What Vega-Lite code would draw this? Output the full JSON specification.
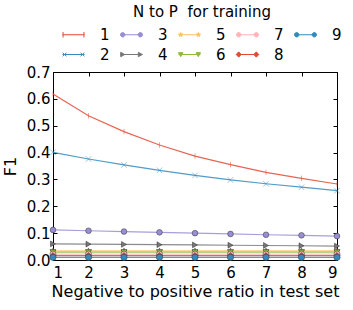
{
  "$schema": "https://vega.github.io/schema/vega-lite/v6.json",
  "width": 284,
  "height": 188,
  "autosize": "none",
  "padding": {"left": 53, "top": 72, "right": 16, "bottom": 50},
  "config": {
    "font": "DejaVu Sans",
    "view": {"stroke": "black", "strokeWidth": 1},
    "axis": {"domainColor": "black", "tickColor": "black", "labelColor": "black", "titleColor": "black", "labelFontSize": 15, "titleFontSize": 16, "titleFontWeight": "normal", "grid": false, "tickSize": -4, "domainWidth": 1, "tickWidth": 1}
  },
  "data": {"values": [
    {"s": "1", "x": 1, "f1": 0.618}, {"s": "1", "x": 2, "f1": 0.537}, {"s": "1", "x": 3, "f1": 0.478}, {"s": "1", "x": 4, "f1": 0.428}, {"s": "1", "x": 5, "f1": 0.387}, {"s": "1", "x": 6, "f1": 0.355}, {"s": "1", "x": 7, "f1": 0.326}, {"s": "1", "x": 8, "f1": 0.304}, {"s": "1", "x": 9, "f1": 0.283},
    {"s": "2", "x": 1, "f1": 0.401}, {"s": "2", "x": 2, "f1": 0.376}, {"s": "2", "x": 3, "f1": 0.354}, {"s": "2", "x": 4, "f1": 0.334}, {"s": "2", "x": 5, "f1": 0.315}, {"s": "2", "x": 6, "f1": 0.298}, {"s": "2", "x": 7, "f1": 0.284}, {"s": "2", "x": 8, "f1": 0.271}, {"s": "2", "x": 9, "f1": 0.258},
    {"s": "3", "x": 1, "f1": 0.112}, {"s": "3", "x": 2, "f1": 0.109}, {"s": "3", "x": 3, "f1": 0.106}, {"s": "3", "x": 4, "f1": 0.103}, {"s": "3", "x": 5, "f1": 0.100}, {"s": "3", "x": 6, "f1": 0.097}, {"s": "3", "x": 7, "f1": 0.094}, {"s": "3", "x": 8, "f1": 0.092}, {"s": "3", "x": 9, "f1": 0.089},
    {"s": "4", "x": 1, "f1": 0.060}, {"s": "4", "x": 2, "f1": 0.059}, {"s": "4", "x": 3, "f1": 0.058}, {"s": "4", "x": 4, "f1": 0.057}, {"s": "4", "x": 5, "f1": 0.056}, {"s": "4", "x": 6, "f1": 0.055}, {"s": "4", "x": 7, "f1": 0.054}, {"s": "4", "x": 8, "f1": 0.053}, {"s": "4", "x": 9, "f1": 0.052},
    {"s": "5", "x": 1, "f1": 0.034}, {"s": "5", "x": 2, "f1": 0.034}, {"s": "5", "x": 3, "f1": 0.034}, {"s": "5", "x": 4, "f1": 0.034}, {"s": "5", "x": 5, "f1": 0.034}, {"s": "5", "x": 6, "f1": 0.034}, {"s": "5", "x": 7, "f1": 0.034}, {"s": "5", "x": 8, "f1": 0.034}, {"s": "5", "x": 9, "f1": 0.034},
    {"s": "6", "x": 1, "f1": 0.029}, {"s": "6", "x": 2, "f1": 0.029}, {"s": "6", "x": 3, "f1": 0.029}, {"s": "6", "x": 4, "f1": 0.029}, {"s": "6", "x": 5, "f1": 0.029}, {"s": "6", "x": 6, "f1": 0.029}, {"s": "6", "x": 7, "f1": 0.029}, {"s": "6", "x": 8, "f1": 0.029}, {"s": "6", "x": 9, "f1": 0.029},
    {"s": "7", "x": 1, "f1": 0.022}, {"s": "7", "x": 2, "f1": 0.022}, {"s": "7", "x": 3, "f1": 0.022}, {"s": "7", "x": 4, "f1": 0.022}, {"s": "7", "x": 5, "f1": 0.022}, {"s": "7", "x": 6, "f1": 0.022}, {"s": "7", "x": 7, "f1": 0.022}, {"s": "7", "x": 8, "f1": 0.022}, {"s": "7", "x": 9, "f1": 0.022},
    {"s": "8", "x": 1, "f1": 0.016}, {"s": "8", "x": 2, "f1": 0.016}, {"s": "8", "x": 3, "f1": 0.016}, {"s": "8", "x": 4, "f1": 0.016}, {"s": "8", "x": 5, "f1": 0.016}, {"s": "8", "x": 6, "f1": 0.016}, {"s": "8", "x": 7, "f1": 0.016}, {"s": "8", "x": 8, "f1": 0.016}, {"s": "8", "x": 9, "f1": 0.016},
    {"s": "9", "x": 1, "f1": 0.010}, {"s": "9", "x": 2, "f1": 0.010}, {"s": "9", "x": 3, "f1": 0.010}, {"s": "9", "x": 4, "f1": 0.010}, {"s": "9", "x": 5, "f1": 0.010}, {"s": "9", "x": 6, "f1": 0.010}, {"s": "9", "x": 7, "f1": 0.010}, {"s": "9", "x": 8, "f1": 0.010}, {"s": "9", "x": 9, "f1": 0.010}
  ]},
  "layer": [
    {
      "mark": {"type": "line", "strokeWidth": 1.2, "opacity": 0.85},
      "encoding": {
        "x": {"field": "x", "type": "quantitative", "scale": {"domain": [1, 9], "nice": false, "zero": false},
          "axis": {"title": "Negative to positive ratio in test set", "values": [1, 2, 3, 4, 5, 6, 7, 8, 9], "format": "d", "labelPadding": 9, "titlePadding": 3}},
        "y": {"field": "f1", "type": "quantitative", "scale": {"domain": [0, 0.7], "nice": false},
          "axis": {"title": "F1", "values": [0, 0.1, 0.2, 0.3, 0.4, 0.5, 0.6, 0.7], "format": ".1f", "labelPadding": 7, "titlePadding": 8}},
        "color": {"field": "s", "type": "nominal",
          "scale": {"domain": ["1", "2", "3", "4", "5", "6", "7", "8", "9"], "range": ["#E24A33", "#348ABD", "#988ED5", "#777777", "#FBC15E", "#8EBA42", "#FFB5B8", "#E24A33", "#348ABD"]},
          "legend": {
            "title": "N to P\u00a0 for training", "orient": "none", "legendX": 9, "legendY": -67, "columns": 5,
            "symbolSize": 484, "labelFontSize": 15, "titleFontSize": 15, "titleFontWeight": "normal", "titleAnchor": "middle",
            "labelColor": "black", "titleColor": "black", "labelOffset": 15, "columnPadding": 8, "rowPadding": 0, "titlePadding": 3,
            "symbolStrokeWidth": 1, "symbolOpacity": 1,
            "encode": {"symbols": {"update": {
              "shape": {"signal": "{'1':'M-1,0H1M-0.95,-0.25V0.25M0.95,-0.25V0.25','2':'M-1,0H1M-0.98,-0.17L-0.64,0.17M-0.98,0.17L-0.64,-0.17M0.64,-0.17L0.98,0.17M0.64,0.17L0.98,-0.17','3':'M-1,0H1M-0.6,0A0.2,0.2 0 1,1 -1,0A0.2,0.2 0 1,1 -0.6,0M1,0A0.2,0.2 0 1,1 0.6,0A0.2,0.2 0 1,1 1,0','4':'M-1,0H1M-0.98,-0.2L-0.62,0L-0.98,0.2ZM0.62,-0.2L0.98,0L0.62,0.2Z','5':'M-1,0H1M-0.8,-0.2L-0.755,-0.061L-0.61,-0.062L-0.728,0.023L-0.682,0.162L-0.8,0.076L-0.918,0.162L-0.872,0.023L-0.99,-0.062L-0.845,-0.061ZM0.8,-0.2L0.845,-0.061L0.99,-0.062L0.872,0.023L0.918,0.162L0.8,0.076L0.682,0.162L0.728,0.023L0.61,-0.062L0.755,-0.061Z','6':'M-1,0H1M-1,-0.17H-0.6L-0.8,0.2ZM0.6,-0.17H1L0.8,0.2Z','7':'M-1,0H1M-0.6,0A0.2,0.2 0 1,1 -1,0A0.2,0.2 0 1,1 -0.6,0M1,0A0.2,0.2 0 1,1 0.6,0A0.2,0.2 0 1,1 1,0','8':'M-1,0H1M-0.8,-0.24L-0.58,0L-0.8,0.24L-1.02,0ZM0.8,-0.24L1.02,0L0.8,0.24L0.58,0Z','9':'M-1,0H1M-0.6,0A0.2,0.2 0 1,1 -1,0A0.2,0.2 0 1,1 -0.6,0M1,0A0.2,0.2 0 1,1 0.6,0A0.2,0.2 0 1,1 1,0'}[datum.value]"},
              "fill": {"scale": "color", "field": "value"},
              "stroke": {"scale": "color", "field": "value"}
            }}}
          }
        }
      }
    },
    {
      "mark": {"type": "point", "filled": true, "opacity": 1},
      "encoding": {
        "x": {"field": "x", "type": "quantitative", "axis": {"orient": "top", "labels": false, "title": null, "values": [1, 2, 3, 4, 5, 6, 7, 8, 9], "domain": false}},
        "y": {"field": "f1", "type": "quantitative", "axis": {"orient": "right", "labels": false, "title": null, "values": [0, 0.1, 0.2, 0.3, 0.4, 0.5, 0.6, 0.7], "domain": false}},
        "shape": {"field": "s", "type": "nominal", "legend": null,
          "scale": {"domain": ["9", "8", "7", "6", "5", "4", "3", "2", "1"], "range": ["circle", "diamond", "circle", "triangle-down", "M0,-1L0.223,-0.307L0.951,-0.309L0.361,0.117L0.588,0.809L0,0.38L-0.588,0.809L-0.361,0.117L-0.951,-0.309L-0.223,-0.307Z", "triangle-right", "circle", "M-1,-1L1,1M-1,1L1,-1", "M0,-1V1"]}},
        "fill": {"field": "s", "type": "nominal", "legend": null,
          "scale": {"domain": ["9", "8", "7", "6", "5", "4", "3", "2", "1"], "range": ["#348ABD", "#E24A33", "#FFB5B8", "#8EBA42", "#FBC15E", "#777777", "#988ED5", "#348ABD", "#E24A33"]}},
        "stroke": {"field": "s", "type": "nominal", "legend": null,
          "scale": {"domain": ["9", "8", "7", "6", "5", "4", "3", "2", "1"], "range": ["#333333", "#333333", "#333333", "#333333", "#333333", "#333333", "#333333", "#348ABD", "#E24A33"]}},
        "size": {"field": "s", "type": "ordinal", "legend": null,
          "scale": {"domain": ["9", "8", "7", "6", "5", "4", "3", "2", "1"], "range": [40, 30, 30, 30, 50, 30, 30, 25, 49]}},
        "strokeWidth": {"field": "s", "type": "ordinal", "legend": null,
          "scale": {"domain": ["9", "8", "7", "6", "5", "4", "3", "2", "1"], "range": [0.5, 0.5, 0.5, 0.5, 0.5, 0.5, 0.5, 1, 1]}}
      }
    }
  ],
  "resolve": {"axis": {"x": "independent", "y": "independent"}}
}
